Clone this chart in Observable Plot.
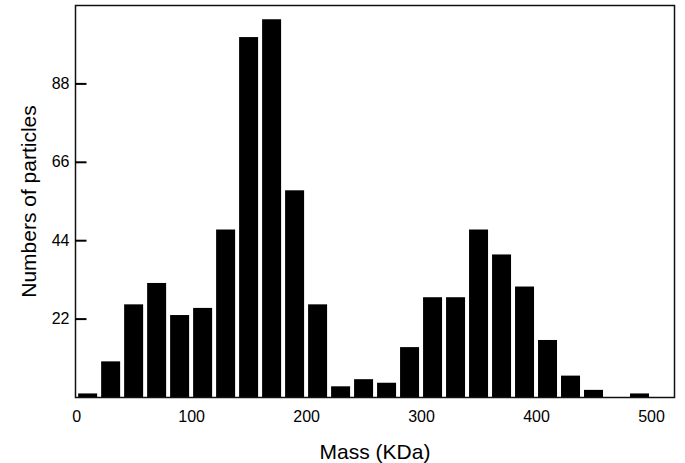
<!DOCTYPE html>
<html>
<head>
<meta charset="utf-8">
<script src="https://cdn.jsdelivr.net/npm/d3@7"></script>
<script src="https://cdn.jsdelivr.net/npm/@observablehq/plot@0.6"></script>
<style>
  html, body { margin: 0; padding: 0; background: #fff; }
</style>
</head>
<body>
<div id="chart"></div>
<script>
// Histogram of particle masses (bin start in KDa, bin width 20 KDa)
const binStart = [0, 20, 40, 60, 80, 100, 120, 140, 160, 180, 200, 220, 240, 260, 280, 300, 320, 340, 360, 380, 400, 420, 440, 460, 480];
const counts   = [1, 10, 26, 32, 23, 25, 47, 101, 106, 58, 26, 3, 5, 4, 14, 28, 28, 47, 40, 31, 16, 6, 2, 0, 1];
const binWidth = 20;
const xTicks = [0, 100, 200, 300, 400, 500];
const yTicks = [22, 44, 66, 88];
const xLabel = "Mass (KDa)";
const yLabel = "Numbers of particles";

const xDomain = [-1, 520];
const tickLen = 10; // inward tick length, in x units
const bins = binStart.map((s, i) => ({x1: s, x2: s + binWidth, count: counts[i]}));

const chart = Plot.plot({
  width: 685,
  height: 463,
  marginLeft: 75,
  marginRight: 11,
  marginTop: 5,
  marginBottom: 66,
  style: {fontFamily: "'Liberation Sans', Arial, Helvetica, sans-serif", fontSize: "16px", color: "#000", background: "#fff"},
  x: {domain: xDomain},
  y: {domain: [0, 110]},
  marks: [
    Plot.rectY(bins, {x1: "x1", x2: "x2", y: "count", fill: "#000", insetLeft: 2, insetRight: 2}),
    Plot.frame({stroke: "#111", strokeWidth: 1.5}),
    // inward tick marks on the left frame
    Plot.ruleY(yTicks, {y: d => d, x1: xDomain[0], x2: xDomain[0] + tickLen, stroke: "#000", strokeWidth: 2}),
    // tick labels
    Plot.axisY({ticks: yTicks, tickSize: 0, tickPadding: 6, label: null}),
    Plot.axisX({ticks: xTicks, tickSize: 0, tickPadding: 13, label: null}),
    Plot.text([xLabel], {text: d => d, frameAnchor: "bottom", textAnchor: "middle", lineAnchor: "middle", dy: 55, fontSize: 21}),
    Plot.text([yLabel], {text: d => d, frameAnchor: "left", textAnchor: "middle", lineAnchor: "middle", rotate: -90, dx: -46, fontSize: 21})
  ]
});
document.getElementById("chart").appendChild(chart);
</script>
</body>
</html>
